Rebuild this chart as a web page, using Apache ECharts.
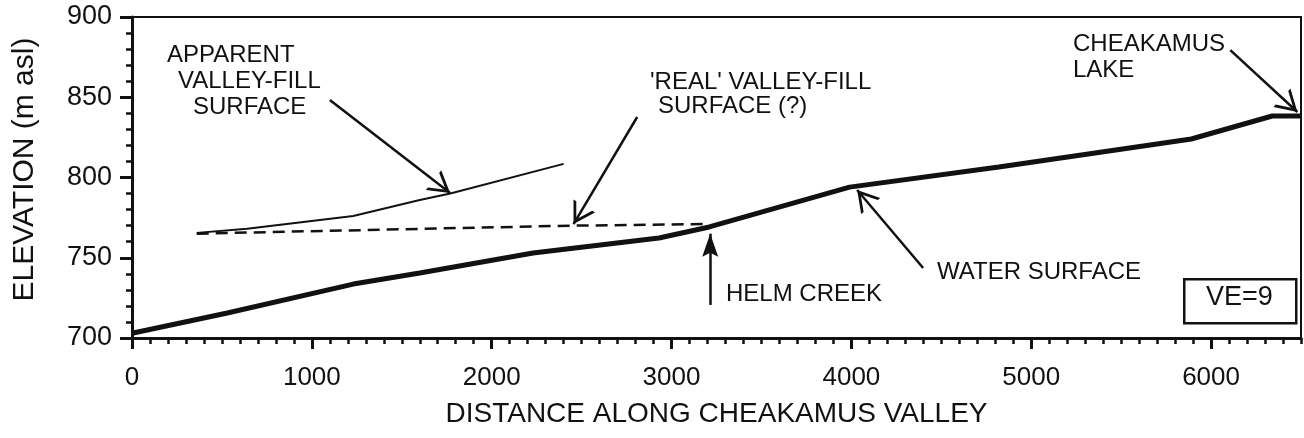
<!DOCTYPE html>
<html>
<head>
<meta charset="utf-8">
<script src="https://cdn.jsdelivr.net/npm/echarts@6/dist/echarts.min.js"></script>
<style>
  html, body { margin: 0; padding: 0; background: #fff; }
  #chart { width: 1304px; height: 438px; }
</style>
</head>
<body>
<div id="chart"></div>
<script>
// water surface profile (m along valley, m asl)
var waterDist = [0, 530, 1230, 1600, 2230, 2930, 3210, 3990, 4820, 5890, 6340, 6500];
var waterElev = [703, 715.6, 733.6, 740.5, 753, 762.3, 769.2, 794, 806.5, 824, 838.3, 838.3];

// apparent valley-fill surface
var apparentDist = [360, 640, 1230, 1600, 1770, 2400];
var apparentElev = [765.5, 768, 776, 786, 790, 808.5];

// 'real' valley-fill surface (dashed)
var realDist = [360, 1600, 2450, 3200];
var realElev = [765, 768, 770, 771];

// annotation arrows: [fromX, fromY, toX, toY]
var arrowApparent = [1100, 848.3, 1769, 790.3];
var arrowReal = [2809, 837.7, 2455, 771];
var arrowLake = [6107, 879.4, 6480, 840.8];
var arrowHelm = [3215, 720.6, 3215, 765];
var arrowWater = [4399, 743.6, 4032, 792.2];

var FONT = '"Liberation Sans", Arial, sans-serif';
var INK = '#111';

function pairs(xs, ys) {
    var out = [];
    for (var i = 0; i < xs.length; i++) out.push([xs[i], ys[i]]);
    return out;
}

// open "V" head, tip sits at the centre of the symbol box
var openHead = 'path://M5,10 L10,20 L8.7,20 L5,12.6 L1.3,20 L0,20 Z M5,0 L5.01,0 L5,0.01 Z';
var solidHead = 'path://M5,10 L9.5,20 L5,18.3 L0.5,20 Z M5,0 L5.01,0 L5,0.01 Z';

function arrow(a, head, size) {
    return [
        { coord: [a[0], a[1]], symbol: 'none' },
        { coord: [a[2], a[3]], symbol: head, symbolSize: size }
    ];
}

var chart = echarts.init(document.getElementById('chart'));

chart.setOption({
    animation: false,
    backgroundColor: '#fff',
    textStyle: { fontFamily: FONT, color: INK },
    grid: {
        left: 132, right: 3, top: 17, bottom: 100,
        show: true, borderColor: INK, borderWidth: 2
    },
    xAxis: [{
        type: 'value', min: 0, max: 6500, interval: 1000, position: 'bottom',
        name: 'DISTANCE ALONG CHEAKAMUS VALLEY',
        nameLocation: 'middle', nameGap: 62,
        nameTextStyle: { fontSize: 28, color: INK, fontFamily: FONT },
        axisLine: { lineStyle: { color: INK, width: 3 } },
        axisTick: { length: 11, lineStyle: { color: INK, width: 3 } },
        axisLabel: {
            fontSize: 26, color: INK, margin: 27, showMaxLabel: false, fontFamily: FONT,
            formatter: function (v) { return String(v); }
        },
        splitLine: { show: false }
    }, {
        type: 'value', min: 0, max: 6500, interval: 100, position: 'bottom',
        axisLine: { show: false },
        axisTick: { length: 6, lineStyle: { color: INK, width: 2.5 } },
        axisLabel: { show: false },
        splitLine: { show: false }
    }],
    yAxis: {
        type: 'value', min: 700, max: 900, interval: 50,
        name: 'ELEVATION (m asl)',
        nameLocation: 'middle', nameGap: 92,
        nameTextStyle: { fontSize: 30, color: INK, fontFamily: FONT, padding: [0, 0, 0, 16] },
        axisLine: { lineStyle: { color: INK, width: 3 } },
        axisTick: { length: 12, lineStyle: { color: INK, width: 3 } },
        minorTick: { show: true, splitNumber: 5, length: 6, lineStyle: { color: INK, width: 2.5 } },
        axisLabel: { fontSize: 27, color: INK, margin: 20, fontFamily: FONT },
        splitLine: { show: false }
    },
    series: [{
        name: 'water surface',
        type: 'line',
        data: pairs(waterDist, waterElev),
        showSymbol: false, symbol: 'none',
        lineStyle: { color: INK, width: 5 }
    }, {
        name: 'apparent valley-fill',
        type: 'line',
        data: pairs(apparentDist, apparentElev),
        symbol: 'none',
        lineStyle: { color: INK, width: 2 },
        markLine: {
            silent: true,
            animation: false,
            label: { show: false },
            lineStyle: { color: INK, width: 2.5, type: 'solid' },
            emphasis: { disabled: true },
            data: [
                arrow(arrowApparent, openHead, [25, 42]),
                arrow(arrowReal, openHead, [25, 42]),
                arrow(arrowLake, openHead, [25, 42]),
                arrow(arrowWater, openHead, [25, 42]),
                arrow(arrowHelm, solidHead, [16, 46])
            ]
        }
    }, {
        name: 'real valley-fill',
        type: 'line',
        data: pairs(realDist, realElev),
        symbol: 'none',
        lineStyle: { color: INK, width: 2.5, type: [12, 7] }
    }],
    graphic: [
        { type: 'text', left: 167, top: 43, style: { text: 'APPARENT', font: '24px ' + FONT, fill: INK } },
        { type: 'text', left: 178, top: 69, style: { text: 'VALLEY-FILL', font: '24px ' + FONT, fill: INK } },
        { type: 'text', left: 193, top: 95, style: { text: 'SURFACE', font: '24px ' + FONT, fill: INK } },
        { type: 'text', left: 650, top: 70, style: { text: "'REAL' VALLEY-FILL", font: '24px ' + FONT, fill: INK } },
        { type: 'text', left: 658, top: 94, style: { text: 'SURFACE (?)', font: '24px ' + FONT, fill: INK } },
        { type: 'text', left: 1073, top: 32, style: { text: 'CHEAKAMUS', font: '24px ' + FONT, fill: INK } },
        { type: 'text', left: 1073, top: 58, style: { text: 'LAKE', font: '24px ' + FONT, fill: INK } },
        { type: 'text', left: 726, top: 282, style: { text: 'HELM CREEK', font: '24px ' + FONT, fill: INK } },
        { type: 'text', left: 937, top: 260, style: { text: 'WATER SURFACE', font: '24px ' + FONT, fill: INK } },
        { type: 'rect', left: 1183, top: 278, shape: { width: 112, height: 44 }, style: { fill: '#fff', stroke: INK, lineWidth: 2.5 } },
        { type: 'text', left: 1206, top: 284, style: { text: 'VE=9', font: '27px ' + FONT, fill: INK } }
    ]
});
</script>
</body>
</html>
